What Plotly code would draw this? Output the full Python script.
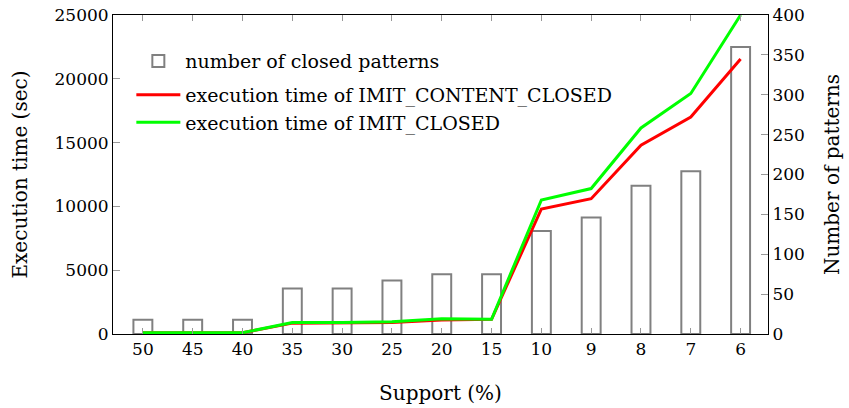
import plotly.graph_objects as go

support = ["50", "45", "40", "35", "30", "25", "20", "15", "10", "9", "8", "7", "6"]
closed_patterns = [18, 18, 18, 57, 57, 67, 75, 75, 129, 146, 186, 204, 360]
time_content_closed = [100, 100, 100, 850, 850, 900, 1100, 1150, 9800, 10600, 14800, 17000, 21550]
time_closed = [100, 100, 100, 900, 900, 960, 1200, 1150, 10500, 11400, 16150, 18850, 25000]

FONT = "DejaVu Serif"

fig = go.Figure()
fig.add_trace(go.Bar(
    x=support, y=closed_patterns, name="number of closed patterns",
    marker=dict(color="rgba(255,255,255,0)", line=dict(color="#808080", width=2)),
    width=0.38, yaxis="y", legendgroup="bars",
))
fig.add_trace(go.Scatter(
    x=support, y=time_content_closed, name="execution time of IMIT_CONTENT_CLOSED",
    mode="lines", line=dict(color="#ff0000", width=3), yaxis="y2", legendgroup="lines",
))
fig.add_trace(go.Scatter(
    x=support, y=time_closed, name="execution time of IMIT_CLOSED",
    mode="lines", line=dict(color="#00ff00", width=3), yaxis="y2", legendgroup="lines",
))

fig.update_layout(
    width=849, height=408,
    margin=dict(l=113, r=81, t=15, b=74, autoexpand=False),
    paper_bgcolor="white", plot_bgcolor="white",
    font=dict(family=FONT, size=17, color="black"),
    showlegend=True,
    legend=dict(x=0.028, y=0.915, xanchor="left", yanchor="top",
                bgcolor="rgba(255,255,255,0)", font=dict(size=19),
                tracegroupgap=6, itemwidth=44, traceorder="grouped"),
    xaxis=dict(
        type="category", range=[-0.6, 12.55], automargin=False,
        showline=True, linecolor="black", linewidth=1, mirror="ticks",
        ticks="inside", ticklen=6, tickcolor="#999999",
        showgrid=False, zeroline=False, ticklabeloverflow="allow",
        title=dict(text="Support (%)", standoff=27),
    ),
    yaxis=dict(
        side="right", range=[0, 400], dtick=50, automargin=False,
        showline=True, linecolor="black", linewidth=1,
        ticks="inside", ticklen=7, tickcolor="#999999",
        showgrid=False, zeroline=False, ticklabeloverflow="allow",
        title=dict(text="Number of patterns", standoff=21),
    ),
    yaxis2=dict(
        overlaying="y", side="left", range=[0, 25000], dtick=5000, automargin=False,
        tickformat="d",
        showline=True, linecolor="black", linewidth=1,
        ticks="inside", ticklen=7, tickcolor="#999999",
        showgrid=False, zeroline=False, ticklabeloverflow="allow",
        title=dict(text="Execution time (sec)", standoff=21),
    ),
)

fig.write_html("out.html", config={"displayModeBar": False},
               post_script="document.body.style.margin='0';")
